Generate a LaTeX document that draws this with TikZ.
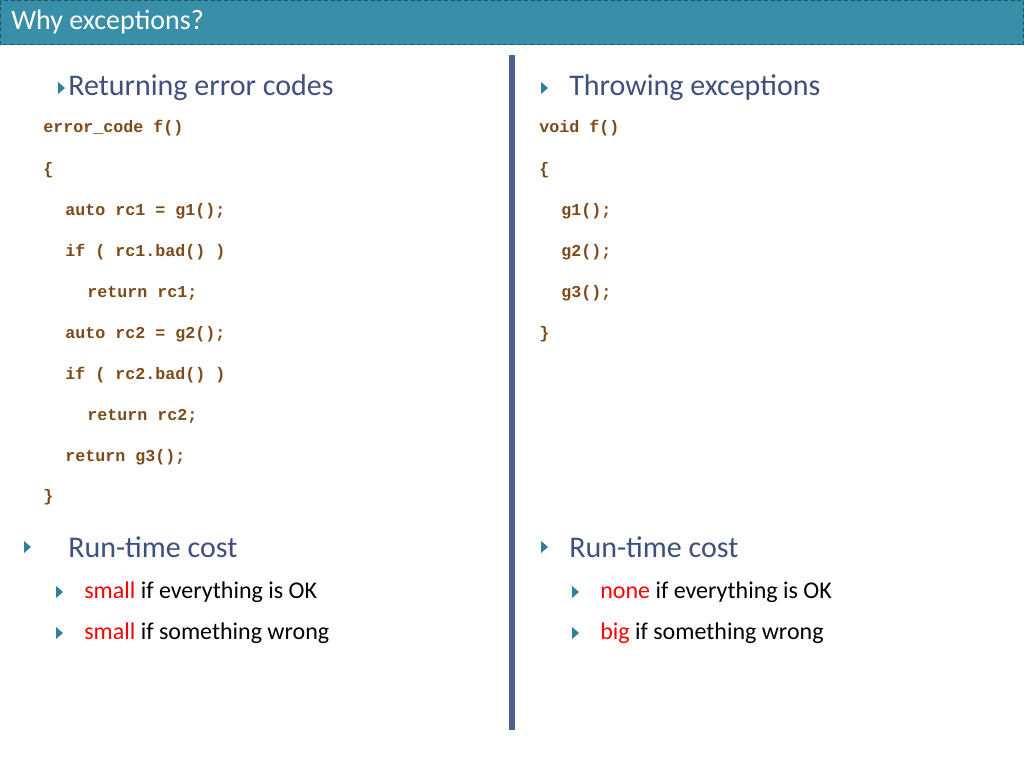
\documentclass[tikz,border=0pt]{standalone}
\usepackage{fontspec}
\setmainfont{Carlito}
\newfontfamily\codefont{Liberation Mono}
\definecolor{bar}{HTML}{3A8FA8}
\definecolor{head}{HTML}{3F4F7F}
\definecolor{code}{HTML}{7F4A1A}
\definecolor{tri}{HTML}{2F7F9F}
\definecolor{vline}{HTML}{4F5F8F}
\begin{document}
\begin{tikzpicture}[x=0.75pt,y=-0.75pt,
  hd/.style={anchor=west,inner sep=0,text=head,font=\fontsize{22.5}{26}\selectfont},
  cd/.style={anchor=west,inner sep=0,text=code,font=\codefont\bfseries\fontsize{12.5}{15}\selectfont},
  sb/.style={anchor=west,inner sep=0,font=\fontsize{18}{22}\selectfont},
  bul/.style={fill=tri}]
\useasboundingbox (0,0) rectangle (1024,768);
\fill[white] (0,0) rectangle (1024,768);
\fill[bar] (0,0) rectangle (1024,45);
\draw[bar!60!black,densely dashed,line width=0.4pt] (0.5,0.5) rectangle (1023.5,44.5);
\node[anchor=west,inner sep=0,text=white,font=\fontsize{21}{24}\selectfont] (title) at (11,22) {Why exceptions?};
\draw[vline,line width=4pt] (512,55) -- (512,730);
\newcommand\tri[2]{\fill[tri] (#1,#2-6) -- (#1+7,#2) -- (#1,#2+6) -- cycle;}
% left
\tri{58}{88}
\node[hd] (lh) at (68,88) {Returning error codes};
\foreach \t/\x/\y in {error\_code f()/43/128,\{/43/170,auto rc1 = g1();/65/211,if ( rc1.bad() )/65/252,return rc1;/87/293,auto rc2 = g2();/65/334,if ( rc2.bad() )/65/375,return rc2;/87/416,return g3();/65/457,\}/43/497}
  \node[cd] at (\x,\y) {\t};
\tri{24}{547}
\node[hd] (lc) at (68,547) {Run-time cost};
\tri{56}{592}
\node[sb] (l1) at (84,592) {\textcolor{red}{small} if everything is OK};
\tri{56}{633}
\node[sb] (l2) at (84,633) {\textcolor{red}{small} if something wrong};
% right
\tri{541}{88}
\node[hd] (rh) at (569,88) {Throwing exceptions};
\foreach \t/\x/\y in {void f()/539/128,\{/539/170,g1();/561/211,g2();/561/252,g3();/561/293,\}/539/334}
  \node[cd] at (\x,\y) {\t};
\tri{541}{547}
\node[hd] (rc) at (569,547) {Run-time cost};
\tri{572}{592}
\node[sb] (r1) at (600,592) {\textcolor{red}{none} if everything is OK};
\tri{572}{633}
\node[sb] (r2) at (600,633) {\textcolor{red}{big} if something wrong};
\end{tikzpicture}
\end{document}
